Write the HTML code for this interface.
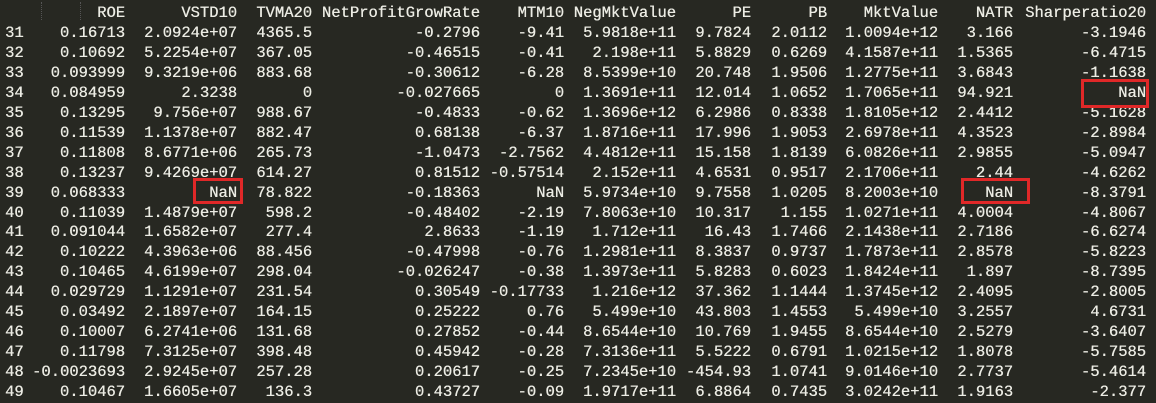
<!DOCTYPE html>
<html><head><meta charset="utf-8"><style>
html,body{margin:0;padding:0;background:#272822;}
#t{position:relative;width:1156px;height:403px;background:#272822;overflow:hidden;font-family:"Liberation Mono",monospace;font-size:15.5px;color:#ecece4;}
.c{position:absolute;white-space:pre;line-height:20px;height:20px;text-shadow:0.3px 0 0 #ecece4;}
.box{position:absolute;border:3px solid #e02828;box-sizing:border-box;}
.g{position:absolute;top:2px;height:18px;border-left:1px dotted #555;}
</style></head><body>
<div id="t">
<div class="g" style="left:41px"></div>
<div class="g" style="left:80px"></div>
</div>
<script>
const headers=["","ROE","VSTD10","TVMA20","NetProfitGrowRate","MTM10","NegMktValue","PE","PB","MktValue","NATR","Sharperatio20"];
const rights=[null,125,237,312,480,564,676,751,827,938,1013,1146];
const rows=[
["31","0.16713","2.0924e+07","4365.5","-0.2796","-9.41","5.9818e+11","9.7824","2.0112","1.0094e+12","3.166","-3.1946"],
["32","0.10692","5.2254e+07","367.05","-0.46515","-0.41","2.198e+11","5.8829","0.6269","4.1587e+11","1.5365","-6.4715"],
["33","0.093999","9.3219e+06","883.68","-0.30612","-6.28","8.5399e+10","20.748","1.9506","1.2775e+11","3.6843","-1.1638"],
["34","0.084959","2.3238","0","-0.027665","0","1.3691e+11","12.014","1.0652","1.7065e+11","94.921","NaN"],
["35","0.13295","9.756e+07","988.67","-0.4833","-0.62","1.3696e+12","6.2986","0.8338","1.8105e+12","2.4412","-5.1628"],
["36","0.11539","1.1378e+07","882.47","0.68138","-6.37","1.8716e+11","17.996","1.9053","2.6978e+11","4.3523","-2.8984"],
["37","0.11808","8.6771e+06","265.73","-1.0473","-2.7562","4.4812e+11","15.158","1.8139","6.0826e+11","2.9855","-5.0947"],
["38","0.13237","9.4269e+07","614.27","0.81512","-0.57514","2.152e+11","4.6531","0.9517","2.1706e+11","2.44","-4.6262"],
["39","0.068333","NaN","78.822","-0.18363","NaN","5.9734e+10","9.7558","1.0205","8.2003e+10","NaN","-8.3791"],
["40","0.11039","1.4879e+07","598.2","-0.48402","-2.19","7.8063e+10","10.317","1.155","1.0271e+11","4.0004","-4.8067"],
["41","0.091044","1.6582e+07","277.4","2.8633","-1.19","1.712e+11","16.43","1.7466","2.1438e+11","2.7186","-6.6274"],
["42","0.10222","4.3963e+06","88.456","-0.47998","-0.76","1.2981e+11","8.3837","0.9737","1.7873e+11","2.8578","-5.8223"],
["43","0.10465","4.6199e+07","298.04","-0.026247","-0.38","1.3973e+11","5.8283","0.6023","1.8424e+11","1.897","-8.7395"],
["44","0.029729","1.1291e+07","231.54","0.30549","-0.17733","1.216e+12","37.362","1.1444","1.3745e+12","2.4095","-2.8005"],
["45","0.03492","2.1897e+07","164.15","0.25222","0.76","5.499e+10","43.803","1.4553","5.499e+10","3.2557","4.6731"],
["46","0.10007","6.2741e+06","131.68","0.27852","-0.44","8.6544e+10","10.769","1.9455","8.6544e+10","2.5279","-3.6407"],
["47","0.11798","7.3125e+07","398.48","0.45942","-0.28","7.3136e+11","5.5222","0.6791","1.0215e+12","1.8078","-5.7585"],
["48","-0.0023693","2.9245e+07","257.28","0.20617","-0.25","7.2345e+10","-454.93","1.0741","9.0146e+10","2.7737","-5.4614"],
["49","0.10467","1.6605e+07","136.3","0.43727","-0.09","1.9717e+11","6.8864","0.7435","3.0242e+11","1.9163","-2.377"]
];
const boxes=[[1081,79,68,29],[193,178,50,26],[961,178,69,26]];
const t=document.getElementById('t');
function cell(txt,col,r){
  const d=document.createElement('div');
  d.className='c';
  d.textContent=txt;
  d.style.top=(3+r*19.95)+'px';
  if(col===0){d.style.left='5px';}
  else{d.style.right=(1156-rights[col])+'px';}
  t.appendChild(d);
  return d;
}
headers.forEach((h,i)=>{ if(!h) return;
  const d=cell(h,i,0);
  
  
});
rows.forEach((row,r)=>{
  row.forEach((v,i)=>{
    const d=cell(v,i,r+1);
    
    
  });
});
boxes.forEach(b=>{
  const d=document.createElement('div');
  d.className='box';
  d.style.left=b[0]+'px';d.style.top=b[1]+'px';d.style.width=b[2]+'px';d.style.height=b[3]+'px';
  
  
  t.appendChild(d);
});
</script>
</body></html>
